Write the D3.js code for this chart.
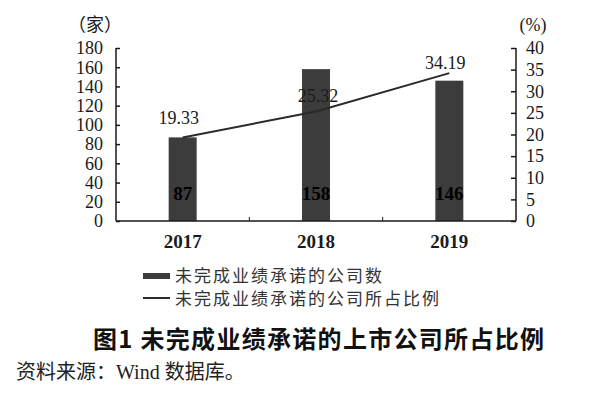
<!DOCTYPE html>
<html>
<head>
<meta charset="utf-8">
<script src="https://cdn.jsdelivr.net/npm/d3@7"></script>
<style>
  body { margin: 0; background: #fff; }
  svg { display: block; }
  .serif { font-family: "Liberation Serif", "Noto Sans CJK SC", serif; }
  .sans { font-family: "Noto Sans CJK SC", sans-serif; }
</style>
</head>
<body>
<svg id="chart" width="600" height="397"></svg>
<script>
// Chart data
var years = ['2017', '2018', '2019'];
var companyCounts = [87, 158, 146];
var companyShares = [19.33, 25.32, 34.19];
var leftTicks = [0, 20, 40, 60, 80, 100, 120, 140, 160, 180];
var rightTicks = [0, 5, 10, 15, 20, 25, 30, 35, 40];
var legendLabels = ['未完成业绩承诺的公司数', '未完成业绩承诺的公司所占比例'];

var svg = d3.select('#chart');
var barColor = '#3c3c3c';
var inkColor = '#1a1a1a';

// Scales
var x = d3.scaleBand().domain(years).range([116, 516]).padding(0);
var yLeft = d3.scaleLinear().domain([0, 180]).range([221, 48]);
var yRight = d3.scaleLinear().domain([0, 40]).range([221, 48]);
var barWidth = 28;

// Bars
svg.selectAll('.bar')
  .data(companyCounts)
  .enter()
  .append('rect')
  .attr('class', 'bar')
  .attr('x', function(d, i){ return x(years[i]) + x.bandwidth()/2 - barWidth/2; })
  .attr('y', function(d){ return yLeft(d); })
  .attr('width', barWidth)
  .attr('height', function(d){ return yLeft(0) - yLeft(d); })
  .attr('fill', barColor);

// Left axis (ticks point inward)
var leftAxis = svg.append('g')
  .attr('transform', 'translate(116,0)')
  .call(d3.axisRight(yLeft).tickValues(leftTicks).tickSize(4).tickFormat(''));
leftAxis.select('.domain').attr('stroke', inkColor).attr('stroke-width', 1.5).attr('d', 'M0,' + yLeft(180) + 'V' + yLeft(0));
leftAxis.selectAll('line').attr('stroke', inkColor).attr('stroke-width', 1.5);
svg.append('g').selectAll('text')
  .data(leftTicks)
  .enter()
  .append('text')
  .attr('class', 'serif')
  .attr('x', 103)
  .attr('y', function(d){ return yLeft(d); })
  .attr('dy', '0.35em')
  .attr('text-anchor', 'end')
  .attr('font-size', 18)
  .attr('fill', inkColor)
  .text(function(d){ return d; });

// Right axis (ticks point inward)
var rightAxis = svg.append('g')
  .attr('transform', 'translate(516,0)')
  .call(d3.axisLeft(yRight).tickValues(rightTicks).tickSize(5).tickFormat(''));
rightAxis.select('.domain').attr('stroke', inkColor).attr('stroke-width', 1.5).attr('d', 'M0,' + yRight(40) + 'V' + yRight(0));
rightAxis.selectAll('line').attr('stroke', inkColor).attr('stroke-width', 1.5);
svg.append('g').selectAll('text')
  .data(rightTicks)
  .enter()
  .append('text')
  .attr('class', 'serif')
  .attr('x', 526)
  .attr('y', function(d){ return yRight(d); })
  .attr('dy', '0.35em')
  .attr('font-size', 18)
  .attr('fill', inkColor)
  .text(function(d){ return d; });

// X axis line with small boundary ticks
svg.append('line')
  .attr('x1', 116).attr('x2', 516)
  .attr('y1', yLeft(0)).attr('y2', yLeft(0))
  .attr('stroke', inkColor).attr('stroke-width', 1.5);
svg.selectAll('.xtick')
  .data(years.slice(1))
  .enter()
  .append('line')
  .attr('class', 'xtick')
  .attr('x1', function(d){ return x(d); })
  .attr('x2', function(d){ return x(d); })
  .attr('y1', yLeft(0)).attr('y2', yLeft(0) - 4)
  .attr('stroke', inkColor).attr('stroke-width', 1);
svg.selectAll('.year')
  .data(years)
  .enter()
  .append('text')
  .attr('class', 'serif year')
  .attr('x', function(d){ return x(d) + x.bandwidth()/2; })
  .attr('y', 241)
  .attr('dy', '0.35em')
  .attr('text-anchor', 'middle')
  .attr('font-size', 19)
  .attr('font-weight', 'bold')
  .attr('fill', inkColor)
  .text(function(d){ return d; });

// Unit labels
svg.append('text').attr('class', 'serif').attr('x', 95).attr('y', 25).attr('dy', '0.35em')
  .attr('text-anchor', 'middle').attr('font-size', 18).attr('fill', inkColor).text('（家）');
svg.append('text').attr('class', 'serif').attr('x', 533).attr('y', 25).attr('dy', '0.35em')
  .attr('text-anchor', 'middle').attr('font-size', 18).attr('fill', inkColor).text('(%)');

// Bar value labels
svg.selectAll('.barlabel')
  .data(companyCounts)
  .enter()
  .append('text')
  .attr('class', 'serif barlabel')
  .attr('x', function(d, i){ return x(years[i]) + x.bandwidth()/2; })
  .attr('y', 193)
  .attr('dy', '0.35em')
  .attr('text-anchor', 'middle')
  .attr('font-size', 19)
  .attr('font-weight', 'bold')
  .attr('fill', '#000')
  .text(function(d){ return d; });

// Share line
var line = d3.line()
  .x(function(d, i){ return x(years[i]) + x.bandwidth()/2; })
  .y(function(d){ return yRight(d); });
svg.append('path')
  .datum(companyShares)
  .attr('d', line)
  .attr('fill', 'none')
  .attr('stroke', '#2a2a2a')
  .attr('stroke-width', 2);

// Line value labels, lifted above each point
var labelDy = [-20, -16, -10];
svg.selectAll('.linelabel')
  .data(companyShares)
  .enter()
  .append('text')
  .attr('class', 'serif linelabel')
  .attr('x', function(d, i){ return x(years[i]) + x.bandwidth()/2 - 4 + (i == 1 ? 6 : 0); })
  .attr('y', function(d, i){ return yRight(d) + labelDy[i]; })
  .attr('dy', '0.35em')
  .attr('text-anchor', 'middle')
  .attr('font-size', 18)
  .attr('fill', inkColor)
  .text(function(d){ return d.toFixed(2); });

// Legend
var legend = svg.append('g').attr('transform', 'translate(143,0)');
legend.append('rect').attr('x', 0).attr('y', 273).attr('width', 27).attr('height', 6).attr('fill', barColor);
legend.append('line').attr('x1', 0).attr('x2', 27).attr('y1', 298).attr('y2', 298)
  .attr('stroke', '#2a2a2a').attr('stroke-width', 2);
legend.selectAll('text')
  .data(legendLabels)
  .enter()
  .append('text')
  .attr('class', 'sans')
  .attr('x', 32)
  .attr('y', function(d, i){ return 276 + i*23; })
  .attr('dy', '0.35em')
  .attr('font-size', 17)
  .attr('letter-spacing', 2)
  .attr('fill', '#333')
  .text(function(d){ return d; });

// Title and source
svg.append('text')
  .attr('class', 'sans')
  .attr('x', 93).attr('y', 340).attr('dy', '0.35em')
  .attr('font-size', 24).attr('font-weight', 'bold').attr('letter-spacing', 1.3).attr('fill', '#111')
  .text('图1  未完成业绩承诺的上市公司所占比例');
svg.append('text')
  .attr('class', 'serif')
  .attr('x', 16).attr('y', 372).attr('dy', '0.35em')
  .attr('font-size', 20).attr('fill', '#222')
  .text('资料来源：Wind 数据库。');
</script>
</body>
</html>
